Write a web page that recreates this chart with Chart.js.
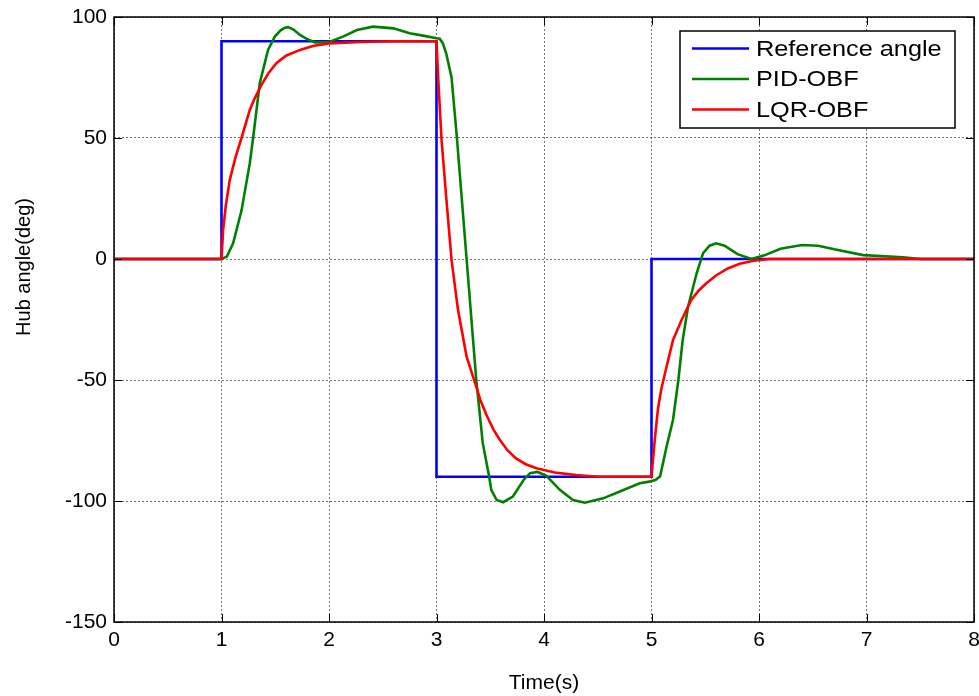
<!DOCTYPE html>
<html>
<head>
<meta charset="utf-8">
<script src="https://cdn.jsdelivr.net/npm/chart.js@4/dist/chart.umd.min.js"></script>
<style>
  body { margin: 0; background: #fff; }
</style>
</head>
<body>
<canvas id="hubChart" width="979" height="696"></canvas>
<script>
// Reference step signal
var refTime  = [0, 1, 1, 3, 3, 5, 5, 8];
var refAngle = [0, 0, 90, 90, -90, -90, 0, 0];

// PID-OBF response
var pidTime  = [0, 1.0, 1.05, 1.108, 1.186, 1.263, 1.294, 1.356, 1.433, 1.496, 1.55, 1.59, 1.62, 1.67, 1.73, 1.8, 1.87, 1.99,
  2.13, 2.26, 2.41, 2.6, 2.75, 2.9, 3.0, 3.03, 3.06, 3.09, 3.14, 3.19, 3.28, 3.37, 3.43, 3.49, 3.51, 3.56, 3.62,
  3.71, 3.81, 3.87, 3.94, 4.02, 4.15, 4.27, 4.38, 4.55, 4.7, 4.89, 4.98, 5.04, 5.08, 5.14, 5.2, 5.25, 5.29, 5.34,
  5.42, 5.48, 5.54, 5.6, 5.68, 5.8, 5.93, 6.05, 6.2, 6.4, 6.55, 6.7, 6.97, 7.34, 7.5, 8];
var pidAngle = [0, 0, 1, 6.5, 20, 39.5, 50, 72.6, 86.4, 91.9, 94.5, 95.6, 95.8, 94.8, 92.6, 90.8, 89.5, 89.5,
  91.9, 94.6, 96, 95.3, 93.3, 92.1, 91.2, 91, 89, 85, 75, 50, 0, -50, -76, -90, -95.5, -99.6, -100.5,
  -98.2, -91.3, -88.5, -88, -89.5, -95.5, -99.6, -100.7, -98.9, -96.2, -92.7, -92, -91.2, -89.8, -77.6, -66.5, -50, -33.5, -19.7,
  -5.9, 2.4, 5.5, 6.5, 5.5, 2, 0, 1.5, 4.2, 5.8, 5.5, 4, 1.6, 0.7, 0, 0];

// LQR-OBF response
var lqrTime  = [0, 1.0, 1.015, 1.04, 1.077, 1.13, 1.186, 1.263, 1.31, 1.372, 1.44, 1.51, 1.6, 1.73, 1.85, 2.0, 2.3, 2.57, 3.0,
  3.015, 3.046, 3.09, 3.14, 3.2, 3.28, 3.36, 3.41, 3.465, 3.53, 3.59, 3.66, 3.74, 3.83, 3.93, 4.1, 4.3, 4.5, 5.0,
  5.03, 5.06, 5.09, 5.14, 5.2, 5.28, 5.37, 5.44, 5.51, 5.6, 5.71, 5.82, 5.95, 6.1, 8];
var lqrAngle = [0, 0, 12, 22, 32.7, 42, 50, 61.6, 66.5, 72, 77, 80.9, 84, 86.4, 88, 89.1, 89.7, 90, 90,
  75.3, 49.9, 25.7, -0.4, -21, -40.4, -51.4, -58.5, -64.5, -70.5, -74.8, -79, -82.4, -84.8, -86.5, -88.2, -89.3, -90, -90,
  -74.8, -62, -54, -44.5, -33.5, -25.2, -16.9, -13, -10, -6.8, -3.9, -2, -0.7, 0, 0];

var xTicks = [0, 1, 2, 3, 4, 5, 6, 7, 8];
var yTicks = [-150, -100, -50, 0, 50, 100];

function toPoints(xs, ys) {
  return xs.map(function (x, i) { return { x: x, y: ys[i] }; });
}

// frame, inward tick marks, boxed legend and y title
var matlabLook = {
  id: 'matlabLook',
  afterDraw: function (chart) {
    var ctx = chart.ctx;
    var a = chart.chartArea;
    var xs = chart.scales.x, ys = chart.scales.y;
    ctx.save();
    ctx.strokeStyle = '#000';
    ctx.lineWidth = 1.5;
    ctx.strokeRect(a.left, a.top, a.right - a.left, a.bottom - a.top);

    ctx.lineWidth = 1;
    ctx.beginPath();
    xTicks.forEach(function (v) {
      var px = Math.round(xs.getPixelForValue(v)) + 0.5;
      ctx.moveTo(px, a.bottom); ctx.lineTo(px, a.bottom - 8);
      ctx.moveTo(px, a.top); ctx.lineTo(px, a.top + 8);
    });
    yTicks.forEach(function (v) {
      var py = Math.round(ys.getPixelForValue(v)) + 0.5;
      ctx.moveTo(a.left, py); ctx.lineTo(a.left + 8, py);
      ctx.moveTo(a.right, py); ctx.lineTo(a.right - 8, py);
    });
    ctx.stroke();

    // y axis title
    ctx.fillStyle = '#000';
    ctx.font = '20px "Liberation Sans", Arial, sans-serif';
    ctx.textAlign = 'center';
    ctx.textBaseline = 'middle';
    ctx.translate(24, 267);
    ctx.rotate(-Math.PI / 2);
    ctx.fillText('Hub angle(deg)', 0, 0);
    ctx.restore();

    // legend box
    ctx.save();
    var left = a.right - 294, top = a.top + 14, w = 275, h = 97;
    ctx.fillStyle = '#fff';
    ctx.fillRect(left, top, w, h);
    ctx.strokeStyle = '#000';
    ctx.lineWidth = 1.5;
    ctx.strokeRect(left, top, w, h);
    ctx.font = '22px "Liberation Sans", Arial, sans-serif';
    ctx.textAlign = 'left';
    ctx.textBaseline = 'middle';
    chart.data.datasets.forEach(function (ds, i) {
      var y = top + 17.5 + i * 30.5;
      ctx.strokeStyle = ds.borderColor;
      ctx.lineWidth = 2.5;
      ctx.beginPath();
      ctx.moveTo(left + 12, y); ctx.lineTo(left + 69, y);
      ctx.stroke();
      ctx.fillStyle = '#000';
      ctx.save();
      ctx.translate(left + 76, y + 1);
      ctx.scale(1.15, 1); // the original text is drawn wide
      ctx.fillText(ds.label, 0, 0);
      ctx.restore();
    });
    ctx.restore();
  }
};

var gridStyle = { color: 'rgba(0,0,0,0.55)', drawTicks: false, lineWidth: 1 };

new Chart(document.getElementById('hubChart'), {
  type: 'line',
  data: {
    datasets: [
      { label: 'Reference angle', data: toPoints(refTime, refAngle), borderColor: '#0000ff', order: 3 },
      { label: 'PID-OBF', data: toPoints(pidTime, pidAngle), borderColor: '#008000', order: 2 },
      { label: 'LQR-OBF', data: toPoints(lqrTime, lqrAngle), borderColor: '#ff0000', order: 1 }
    ]
  },
  options: {
    responsive: false,
    animation: false,
    devicePixelRatio: 1,
    layout: { padding: { top: 17, right: 5, left: 0, bottom: 0 } },
    elements: {
      point: { radius: 0 },
      line: { borderWidth: 2.6, tension: 0, fill: false }
    },
    plugins: {
      legend: { display: false },
      tooltip: { enabled: false }
    },
    scales: {
      x: {
        type: 'linear',
        min: 0,
        max: 8,
        afterFit: function (s) { s.height = 74; s.paddingLeft = 0; s.paddingRight = 0; },
        afterBuildTicks: function (s) { s.ticks = xTicks.map(function (v) { return { value: v }; }); },
        ticks: { color: '#000', padding: 6, font: { family: '"Liberation Sans", Arial, sans-serif', size: 21 } },
        grid: gridStyle,
        border: { display: false, dash: [2, 2] },
        title: {
          display: true,
          text: 'Time(s)',
          color: '#000',
          padding: { top: 0, bottom: 0 },
          font: { family: '"Liberation Sans", Arial, sans-serif', size: 21 }
        }
      },
      y: {
        type: 'linear',
        min: -150,
        max: 100,
        afterFit: function (s) { s.width = 114; s.paddingTop = 0; s.paddingBottom = 0; },
        afterBuildTicks: function (s) { s.ticks = yTicks.map(function (v) { return { value: v }; }); },
        ticks: { color: '#000', padding: 7, font: { family: '"Liberation Sans", Arial, sans-serif', size: 21 } },
        grid: gridStyle,
        border: { display: false, dash: [2, 2] }
      }
    }
  },
  plugins: [matlabLook]
});
</script>
</body>
</html>
